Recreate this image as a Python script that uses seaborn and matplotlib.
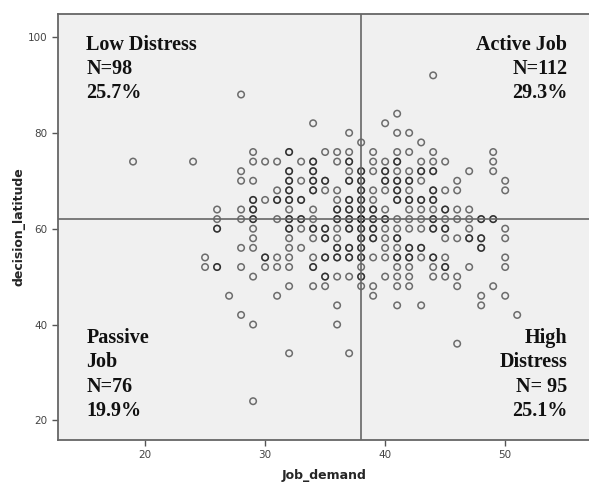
import numpy as np
import pandas as pd
import seaborn as sns
import matplotlib
matplotlib.use("Agg")
import matplotlib.pyplot as plt

# job demand values at each decision latitude level (repeats = overlapping cases)
row_92 = [44]
row_88 = [28]
row_84 = [41]
row_82 = [34, 40]
row_80 = [37, 41, 42]
row_78 = [38, 43]
row_76 = [29, 32, 32, 35, 36, 37, 39, 41, 42, 44, 49]
row_74 = [19, 24, 29, 30, 31, 33, 34, 34, 36, 37, 37, 39, 40, 41, 41, 43, 44, 45, 49]
row_72 = [28, 32, 32, 34, 34, 37, 38, 38, 39, 40, 40, 41, 42, 43, 43, 44, 44, 47, 49]
row_70 = [28, 29, 32, 32, 33, 34, 34, 35, 35, 37, 37, 38, 38, 40, 40, 41, 41, 42, 42, 43, 46, 50]
row_68 = [31, 32, 32, 34, 34, 35, 36, 38, 38, 39, 40, 41, 41, 42, 44, 44, 45, 46, 50]
row_66 = [29, 29, 30, 31, 31, 32, 32, 33, 33, 36, 37, 37, 38, 38, 39, 41, 41, 42, 42, 43, 43, 44, 44]
row_64 = [26, 28, 29, 29, 32, 34, 36, 36, 37, 37, 38, 38, 39, 39, 40, 42, 43, 44, 45, 45, 46, 47]
row_62 = [26, 28, 29, 29, 31, 32, 32, 33, 33, 34, 36, 36, 37, 37, 38, 38, 38, 39, 39,
          40, 40, 41, 42, 43, 44, 44, 45, 46, 47, 48, 48, 49, 49]
row_60 = [26, 26, 29, 32, 32, 33, 34, 34, 35, 35, 36, 37, 37, 38, 38, 39, 39, 40, 41,
          42, 43, 44, 44, 45, 45, 47, 50]
row_58 = [29, 32, 34, 35, 35, 36, 38, 38, 39, 39, 40, 41, 41, 45, 46, 47, 47, 48, 48, 50]
row_56 = [28, 29, 32, 33, 36, 36, 37, 37, 38, 38, 40, 41, 42, 42, 43, 43, 48, 48]
row_54 = [25, 30, 30, 31, 32, 34, 35, 35, 36, 36, 37, 37, 38, 38, 39, 40, 41, 41,
          42, 42, 43, 44, 44, 45, 50]
row_52 = [25, 26, 26, 28, 30, 31, 32, 34, 34, 38, 41, 42, 44, 45, 45, 47, 50]
row_50 = [29, 35, 35, 36, 37, 38, 38, 40, 41, 42, 44, 45, 46]
row_48 = [32, 34, 35, 38, 39, 41, 42, 46, 49]
row_46 = [27, 31, 39, 48, 50]
row_44 = [36, 41, 43, 48]
row_42 = [28, 51]
row_40 = [29, 36]
row_36 = [46]
row_34 = [32, 37]
row_24 = [29]

rows = {92: row_92, 88: row_88, 84: row_84, 82: row_82, 80: row_80, 78: row_78,
        76: row_76, 74: row_74, 72: row_72, 70: row_70, 68: row_68, 66: row_66,
        64: row_64, 62: row_62, 60: row_60, 58: row_58, 56: row_56, 54: row_54,
        52: row_52, 50: row_50, 48: row_48, 46: row_46, 44: row_44, 42: row_42,
        40: row_40, 36: row_36, 34: row_34, 24: row_24}

df = pd.DataFrame([(x, y) for y, xs in rows.items() for x in xs],
                  columns=["Job_demand", "decision_latitude"])

demand_cut = 38
latitude_cut = 62

quad_labels = {
    "tl": "Low Distress\nN=98\n25.7%",
    "tr": "Active Job\nN=112\n29.3%",
    "bl": "Passive\nJob\nN=76\n19.9%",
    "br": "High\nDistress\nN= 95\n25.1%",
}

sns.set_style("white")
plt.rcParams['font.family'] = 'DejaVu Sans'

fig = plt.figure(figsize=(5.89, 4.83), dpi=100)
ax = fig.add_axes([0.0985, 0.089, 0.9035, 0.882])
ax.set_facecolor("#f0f0f0")

sns.scatterplot(data=df, x="Job_demand", y="decision_latitude", ax=ax,
                marker="o", s=22, facecolors="none", edgecolor="black",
                linewidth=1.1, alpha=0.55)

ax.axvline(demand_cut, color="#666666", lw=1.2, zorder=1)
ax.axhline(latitude_cut, color="#666666", lw=1.2, zorder=1)

ax.set_xlim(12.75, 57.08)
ax.set_ylim(15.9, 104.8)
ax.set_xticks([20, 30, 40, 50])
ax.set_yticks([20, 40, 60, 80, 100])
ax.tick_params(direction="out", length=4, width=1, color="#555555",
               labelsize=7.5, labelcolor="#444444", bottom=True, left=True)
for sp in ax.spines.values():
    sp.set_color("#666666")
    sp.set_linewidth(1.3)

ax.set_xlabel("Job_demand", fontweight="bold", fontsize=9, labelpad=6)
ax.set_ylabel("decision_latitude", fontweight="bold", fontsize=9, labelpad=2)

serif = dict(family="Liberation Serif", fontweight="bold", fontsize=14.5,
             linespacing=1.28, color="#111111")
ax.text(0.053, 0.951, quad_labels["tl"], transform=ax.transAxes,
        ha="left", va="top", **serif)
ax.text(0.957, 0.951, quad_labels["tr"], transform=ax.transAxes,
        ha="right", va="top", multialignment="right", **serif)
ax.text(0.053, 0.045, quad_labels["bl"], transform=ax.transAxes,
        ha="left", va="bottom", **serif)
ax.text(0.957, 0.045, quad_labels["br"], transform=ax.transAxes,
        ha="right", va="bottom", multialignment="right", **serif)

fig.savefig("out.png", dpi=100)
